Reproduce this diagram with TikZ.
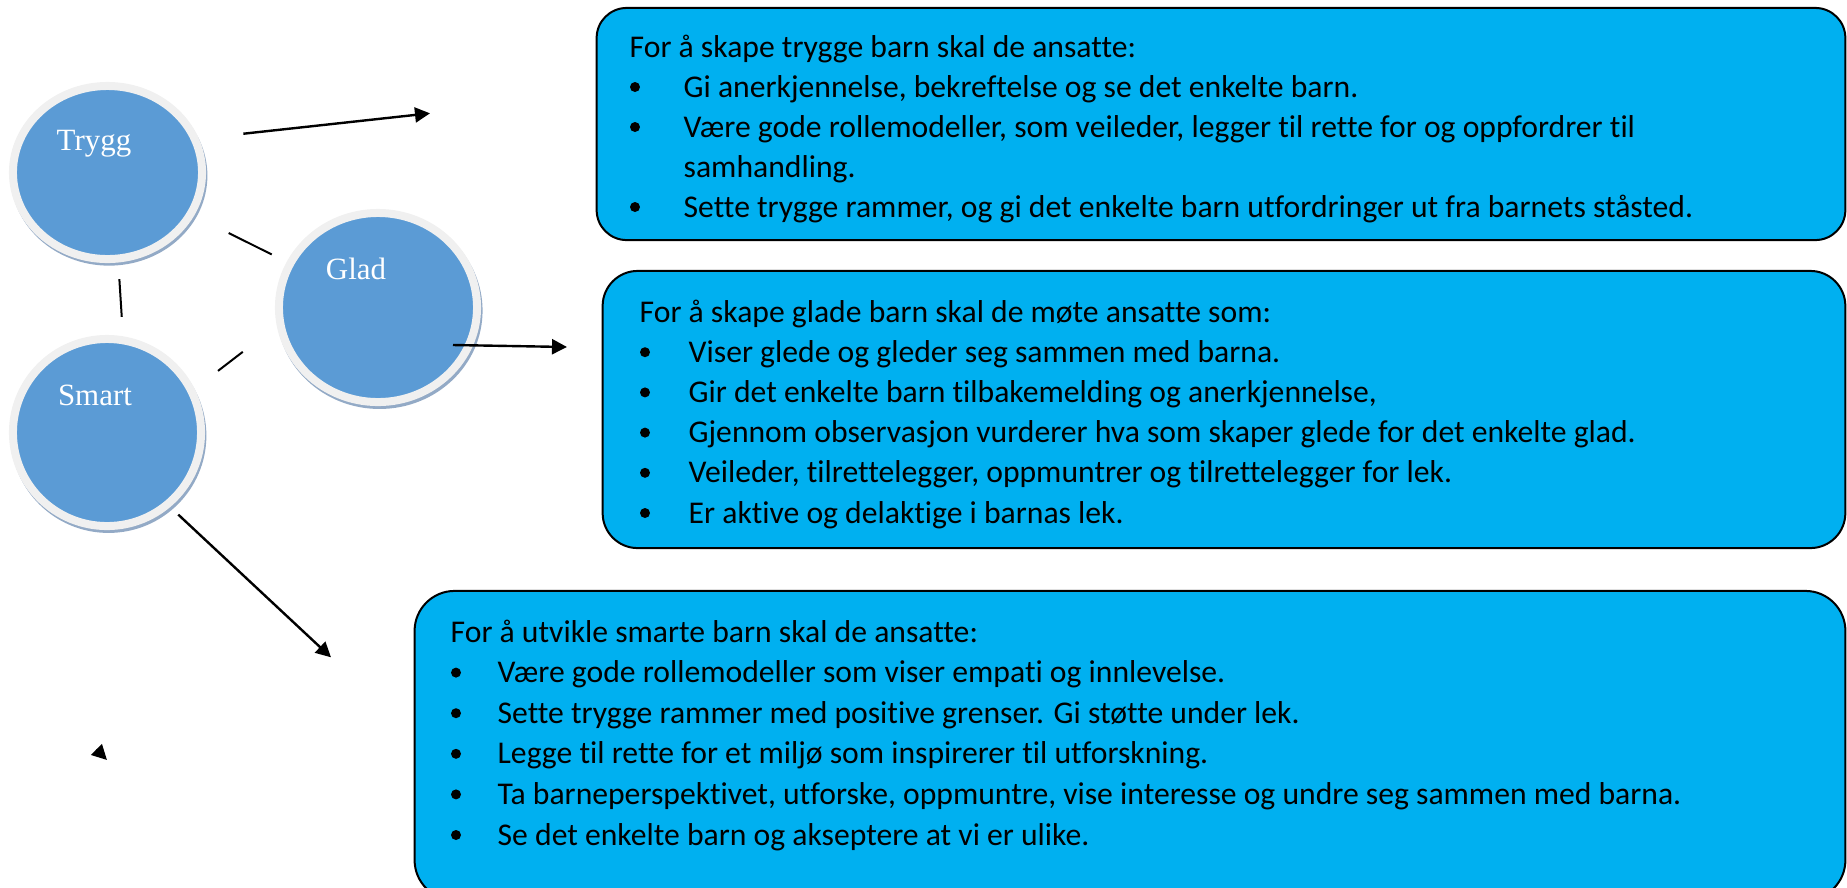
\documentclass[tikz,border=0pt]{standalone}
\usepackage{fontspec}
\setmainfont{Carlito}[Ligatures=NoCommon]
\newfontfamily\timesfont{Liberation Serif}
\usetikzlibrary{arrows.meta,shapes.geometric,shadows,calc}
\definecolor{sirkelblaa}{HTML}{5B9BD5}
\definecolor{ringgraa}{HTML}{F0F0F0}
\definecolor{skygge}{HTML}{93AAC6}
\definecolor{boksblaa}{HTML}{00B0F0}
\tikzset{
  sirkel/.style={ellipse, fill=sirkelblaa, draw=ringgraa, line width=0.08cm, inner sep=0pt, outer sep=0pt,
    drop shadow={shadow scale=1.04, shadow xshift=0.015cm, shadow yshift=-0.03cm, fill=skygge, opacity=1}},
  sirkeltekst/.style={anchor=base, inner sep=0pt, text=white, font=\timesfont\fontsize{8.8}{10}\selectfont},
  boks/.style={rectangle, rounded corners=0.3cm, fill=boksblaa, draw=black, line width=0.02cm, inner sep=0pt},
  tekst/.style={anchor=base west, inner sep=0pt, font=\fontsize{9}{11}\selectfont},
  forbindelse/.style={line width=0.02cm},
  pil/.style={line width=0.024cm, -{Triangle[length=0.15cm, width=0.15cm]}}
}
\begin{document}
\begin{tikzpicture}[x=0.01cm, y=-0.01cm]
  \useasboundingbox (0,0) rectangle (1847,887);

  % Sirkler
  \node[sirkel, minimum width=1.89cm, minimum height=1.73cm] (trygg) at (107.5,172.5) {};
  \node[sirkel, minimum width=1.98cm, minimum height=1.89cm] (glad) at (378,307.5) {};
  \node[sirkel, minimum width=1.88cm, minimum height=1.87cm] (smart) at (107,432.5) {};
  \node[sirkeltekst] (tryggTekst) at (94,150) {Trygg};
  \node[sirkeltekst] (gladTekst) at (356,279) {Glad};
  \node[sirkeltekst] (smartTekst) at (95,405) {Smart};

  % Streker mellom sirklene
  \draw[forbindelse, shorten <=0.426cm, shorten >=0.207cm] (trygg) -- (glad);
  \draw[forbindelse, shorten <=0.206cm, shorten >=0.235cm] (trygg.-83) -- (smart.80);
  \draw[forbindelse, shorten <=0.473cm, shorten >=0.335cm] (glad.189) -- (smart.26);

  % Piler
  \coordinate (tryggPil) at (430,113.3);
  \coordinate (gladUt) at ($(glad)+(75,37.5)$);
  \coordinate (gladPil) at (567,347);
  \coordinate (smartPil) at (331,657.3);
  \draw[pil, shorten <=0.489cm] (trygg.21) -- (tryggPil);
  \draw[pil] (gladUt) -- (gladPil);
  \draw[pil, shorten <=0.151cm] (smart.-50) -- (smartPil);
  \coordinate (loseFra) at (96.4,749.4);
  \coordinate (loseTil) at (107,760);
  \draw[pil] (loseFra) -- (loseTil);

  % Bokser
  \node[boks, minimum width=12.48cm, minimum height=2.32cm] (tryggBoks) at (1221,124) {};
  \node[boks, rounded corners=0.35cm, minimum width=12.42cm, minimum height=2.77cm] (gladBoks) at (1224,409.5) {};
  \node[boks, rounded corners=0.4cm, minimum width=14.30cm, minimum height=3.09cm] (smartBoks) at (1130,745.5) {};

  % Trygg
  \begin{scope}
    \clip (597,8) rectangle (1845,222);
    \node[tekst] (tryggOverskrift) at (629,57) {For å skape trygge barn skal de ansatte:};
    \foreach \k/\linje in {1/{Gi anerkjennelse, bekreftelse og se det enkelte barn.},
        2/{Være gode rollemodeller, som veileder, legger til rette for og oppfordrer til},
        4/{Sette trygge rammer, og gi det enkelte barn utfordringer ut fra barnets ståsted.}}{
      \fill (635,47+40*\k) circle (5);
      \node[tekst] (tryggL\k) at (683,57+40*\k) {\linje};
    }
    \node[tekst] (tryggL3) at (683,177) {samhandling.};
  \end{scope}

  % Glad
  \node[tekst] (gladOverskrift) at (639,322) {For å skape glade barn skal de møte ansatte som:};
  \foreach \linje [count=\k] in {{Viser glede og gleder seg sammen med barna.},
      {Gir det enkelte barn tilbakemelding og anerkjennelse,},
      {Gjennom observasjon vurderer hva som skaper glede for det enkelte glad.},
      {Veileder, tilrettelegger, oppmuntrer og tilrettelegger for lek.},
      {Er aktive og delaktige i barnas lek.}}{
    \fill (645,312+40.2*\k) circle (5);
    \node[tekst] (gladL\k) at (688,322+40.2*\k) {\linje};
  }

  % Smart
  \node[tekst] (smartOverskrift) at (450,642) {For å utvikle smarte barn skal de ansatte:};
  \foreach \linje [count=\k] in {{Være gode rollemodeller som viser empati og innlevelse.},
      {Sette trygge rammer med positive grenser. Gi støtte under lek.},
      {Legge til rette for et miljø som inspirerer til utforskning.},
      {Ta barneperspektivet, utforske, oppmuntre, vise interesse og undre seg sammen med barna.},
      {Se det enkelte barn og akseptere at vi er ulike.}}{
    \fill (456,632+40.6*\k) circle (5);
    \node[tekst] (smartL\k) at (497,642+40.6*\k) {\linje};
  }
\end{tikzpicture}
\end{document}
